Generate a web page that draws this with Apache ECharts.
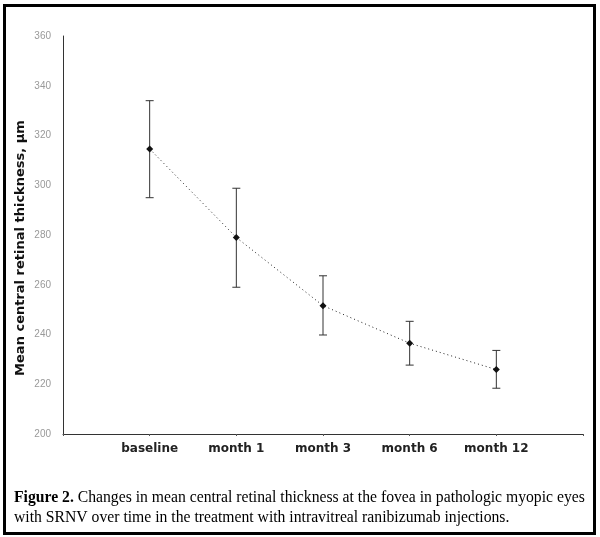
<!DOCTYPE html>
<html>
<head>
<meta charset="utf-8">
<script src="https://cdn.jsdelivr.net/npm/echarts@6/dist/echarts.min.js"></script>
<style>
html,body{margin:0;padding:0;background:#fff;}
#c{width:600px;height:537px;}
</style>
</head>
<body>
<div id="c"></div>
<script>
var categories = ['', 'baseline', 'month 1', 'month 3', 'month 6', 'month 12', ''];
var meanValues = [314.6, 279.0, 251.6, 236.5, 225.9];
var upperValues = [334.0, 298.8, 263.6, 245.3, 233.6];
var lowerValues = [295.0, 259.0, 239.8, 227.7, 218.4];
var yTicks = [200, 220, 240, 260, 280, 300, 320, 340, 360];
var yTitle = 'Mean central retinal thickness, \u00b5m';
var captionBold = 'Figure 2.';
var captionRest1 = ' Changes in mean central retinal thickness at the fovea in pathologic myopic eyes';
var captionLine2 = 'with SRNV over time in the treatment with intravitreal ranibizumab injections.';

var lineData = ['-'].concat(meanValues).concat(['-']);
var errData = meanValues.map(function (m, i) { return [i + 1, lowerValues[i], upperValues[i]]; });

var chart = echarts.init(document.getElementById('c'), null, {renderer: 'canvas'});
chart.setOption({
  backgroundColor: '#fff',
  animation: false,
  grid: {left: 63, right: 17, top: 36, bottom: 103},
  xAxis: {
    type: 'category',
    data: categories,
    boundaryGap: false,
    axisLine: {lineStyle: {color: '#333', width: 1}},
    axisTick: {show: true, length: 2, lineStyle: {color: '#555'}},
    axisLabel: {
      color: '#222', fontFamily: 'DejaVu Sans', fontWeight: 'bold', fontSize: 12, margin: 9,
      interval: 0
    },
    splitLine: {show: false}
  },
  yAxis: {
    type: 'value',
    min: yTicks[0], max: yTicks[yTicks.length - 1], interval: 20,
    axisLine: {show: true, lineStyle: {color: '#333', width: 1}},
    axisTick: {show: false},
    axisLabel: {color: '#999', fontFamily: 'Liberation Sans', fontSize: 10, margin: 12},
    splitLine: {show: false}
  },
  series: [
    {
      type: 'line',
      data: lineData,
      symbol: 'diamond',
      symbolSize: 7,
      itemStyle: {color: '#111'},
      lineStyle: {color: '#222', width: 1, type: [1, 3]},
      connectNulls: false,
      z: 3
    },
    {
      type: 'custom',
      data: errData,
      z: 2,
      renderItem: function (params, api) {
        var x = api.value(0);
        var lo = api.coord([x, api.value(1)]);
        var hi = api.coord([x, api.value(2)]);
        var w = 4;
        var st = {stroke: '#333', lineWidth: 1};
        return {
          type: 'group',
          children: [
            {type: 'line', shape: {x1: hi[0], y1: hi[1], x2: lo[0], y2: lo[1]}, style: st},
            {type: 'line', shape: {x1: hi[0] - w, y1: hi[1], x2: hi[0] + w, y2: hi[1]}, style: st},
            {type: 'line', shape: {x1: lo[0] - w, y1: lo[1], x2: lo[0] + w, y2: lo[1]}, style: st}
          ]
        };
      }
    }
  ],
  graphic: [
    {
      type: 'rect',
      shape: {x: 4.5, y: 5.5, width: 590, height: 528},
      style: {fill: 'none', stroke: '#000', lineWidth: 3},
      silent: true
    },
    {
      type: 'text',
      x: 21,
      y: 248,
      rotation: Math.PI / 2,
      style: {
        text: yTitle,
        fontFamily: 'DejaVu Sans', fontWeight: 'bold', fontSize: 13, fill: '#111',
        align: 'center', verticalAlign: 'middle'
      }
    },
    {
      type: 'text',
      left: 14,
      top: 490,
      style: {
        text: '{b|' + captionBold + '}' + '{n|' + captionRest1 + '}\n{n|' + captionLine2 + '}',
        rich: {
          b: {fontFamily: 'Liberation Serif', fontWeight: 'bold', fontSize: 15.7, fill: '#000', lineHeight: 20},
          n: {fontFamily: 'Liberation Serif', fontSize: 15.7, fill: '#000', lineHeight: 20}
        }
      }
    }
  ]
});
</script>
</body>
</html>
